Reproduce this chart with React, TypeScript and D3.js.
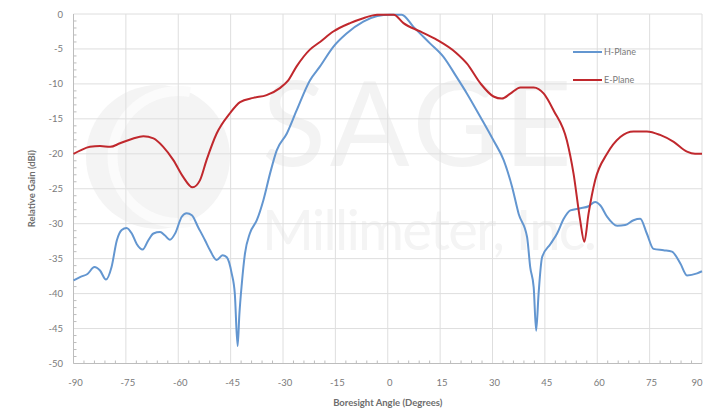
import React from 'react';
import * as d3 from 'd3';

// measured pattern, angle in degrees / relative gain in dBi
const hAngles = [-90, -88, -86, -84, -82.4, -80.7, -79.1, -77.6, -76.2, -74.8, -73.3, -71.9, -70.2, -68.6, -67.1, -65.2, -63.8, -62.4, -60.9, -59, -57.6, -56.1, -54.3, -52.3, -50.9, -49, -47.3, -46.1, -44.7, -43.8, -43, -42.5, -41.8, -40.9, -39.5, -37.5, -35.6, -33.7, -31.8, -28.9, -26.1, -22.3, -19.4, -15.6, -11.8, -7, -3, 0.6, 4, 7.3, 12.1, 15.9, 19.7, 22.7, 26.5, 30.3, 33.2, 35.6, 37.5, 39.9, 40.8, 41.8, 42.5, 43.2, 44.2, 46.6, 48.5, 50.4, 52.3, 55.2, 57.5, 59.4, 60.9, 62.8, 65.7, 68, 70.4, 72.3, 74.2, 76.1, 79, 81.4, 83.8, 85.7, 88.6, 90];
const hGain = [-38.1, -37.6, -37.2, -36.2, -36.7, -38.0, -36.2, -32.4, -30.9, -30.6, -31.4, -32.9, -33.7, -32.4, -31.4, -31.2, -31.7, -32.3, -31.4, -29.0, -28.5, -28.8, -30.5, -32.4, -33.8, -35.2, -34.5, -34.8, -37.1, -40.0, -47.5, -43.0, -38.6, -34.3, -31.4, -29.5, -26.6, -22.8, -19.5, -17.1, -13.8, -9.5, -7.5, -4.7, -2.8, -1.1, -0.3, -0.1, -0.1, -1.8, -4.2, -6.1, -9.0, -11.4, -14.7, -18.1, -20.9, -24.7, -28.6, -31.9, -36.2, -39.1, -45.3, -40.0, -34.8, -32.9, -31.4, -29.3, -28.1, -27.8, -27.5, -26.9, -27.4, -29.0, -30.3, -30.2, -29.5, -29.3, -31.4, -33.6, -33.8, -34.0, -35.7, -37.4, -37.1, -36.8];

const eAngles = [-90, -88, -85.3, -82.4, -79.5, -76.7, -72.9, -70, -67.1, -64.3, -61.4, -58.6, -55.9, -53.8, -51.9, -49, -45.2, -42.3, -38.5, -34.7, -30.9, -28.5, -26.1, -22.3, -19.4, -15.6, -10.8, -7, -3, 1.7, 4.5, 9.3, 14.1, 19.7, 22.7, 26.5, 30.3, 32.7, 35.1, 38, 41.8, 44.7, 47.5, 51.3, 53.2, 55.1, 56.3, 57.5, 59.4, 62.8, 66.6, 70.4, 74.2, 78, 81.9, 85.7, 88, 90];
const eGain = [-20.0, -19.5, -19.0, -18.9, -19.0, -18.5, -17.8, -17.5, -17.8, -19.0, -20.9, -23.3, -24.8, -23.8, -20.9, -17.1, -14.2, -12.6, -12.0, -11.6, -10.6, -9.5, -7.5, -5.1, -4.0, -2.5, -1.3, -0.6, -0.1, -0.1, -1.3, -2.5, -3.7, -5.6, -7.1, -9.9, -11.8, -12.1, -11.4, -10.5, -10.5, -11.4, -13.8, -18.1, -22.8, -29.5, -32.6, -28.6, -23.8, -20.0, -17.6, -16.8, -16.8, -17.3, -18.3, -19.7, -20.0, -20.0];

const xTicks = [-90, -75, -60, -45, -30, -15, 0, 15, 30, 45, 60, 75, 90];
const yTicks = [0, -5, -10, -15, -20, -25, -30, -35, -40, -45, -50];
const seriesNames = ['H-Plane', 'E-Plane'];
const seriesColors = ['#6396d0', '#c0282d'];

const font = 'Lato, "Open Sans", sans-serif';

export default function App() {
  const width = 707;
  const height = 410;
  const margin = { top: 14, right: 5, bottom: 46.5, left: 73.5 };

  const x = d3.scaleLinear().domain([-90, 90]).range([margin.left, width - margin.right]);
  const y = d3.scaleLinear().domain([-50, 0]).range([height - margin.bottom, margin.top]);

  const line = d3
    .line<[number, number]>()
    .x((d) => x(d[0]))
    .y((d) => y(d[1]))
    .curve(d3.curveMonotoneX);

  const hPath = line(hAngles.map((a, i) => [a, hGain[i]] as [number, number])) || '';
  const ePath = line(eAngles.map((a, i) => [a, eGain[i]] as [number, number])) || '';

  const xMinor = d3.range(-90, 90.01, 3).filter((v) => v % 15 !== 0);
  const yMinor = d3.range(-50, 0.01, 1).filter((v) => v % 5 !== 0);

  const x0 = x(-90);
  const y0 = y(-50);

  return (
    <svg
      width={width}
      height={height}
      style={{ position: 'absolute', left: 0, top: 0, background: '#fff' }}
    >
      {/* faint watermark */}
      <g>
        <circle cx={158} cy={157} r={72} fill="#f4f4f4" />
        <path
          d="M 190 92 A 66 66 0 1 0 190 222"
          fill="none"
          stroke="#fbfbfb"
          strokeWidth={10}
        />
        <text
          x={262}
          y={166}
          fontFamily={font}
          fontSize={118}
          fill="#f3f3f3"
          textLength={310}
          lengthAdjust="spacing"
        >
          SAGE
        </text>
        <text
          x={262}
          y={250}
          fontFamily={font}
          fontSize={56}
          fill="#f4f4f4"
          textLength={335}
          lengthAdjust="spacing"
        >
          Millimeter, Inc.
        </text>
      </g>

      {/* grid */}
      <g stroke="#dedede" strokeWidth={1}>
        {xTicks.map((t) => (
          <line key={'gx' + t} x1={x(t)} x2={x(t)} y1={y(0)} y2={y0} />
        ))}
        {yTicks.map((t) => (
          <line key={'gy' + t} x1={x0} x2={x(90)} y1={y(t)} y2={y(t)} />
        ))}
      </g>

      {/* axes */}
      <g stroke="#bdbdbd" strokeWidth={1}>
        <line x1={x0} x2={x0} y1={y(0)} y2={y0} />
        <line x1={x0} x2={x(90)} y1={y0} y2={y0} />
        {xMinor.map((t) => (
          <line key={'mx' + t} x1={x(t)} x2={x(t)} y1={y0} y2={y0 - 3} />
        ))}
        {yMinor.map((t) => (
          <line key={'my' + t} x1={x0} x2={x0 + 3} y1={y(t)} y2={y(t)} />
        ))}
      </g>

      <g fontFamily={font} fontSize={9.5} fill="#7a7a7a">
        {xTicks.map((t) => (
          <text key={'tx' + t} x={Math.min(x(t) + 2, 697)} y={386} textAnchor="middle">
            {t}
          </text>
        ))}
        {yTicks.map((t) => (
          <text key={'ty' + t} x={63} y={y(t) + 3.5} textAnchor="end">
            {t}
          </text>
        ))}
      </g>

      <text
        x={(x0 + x(90)) / 2}
        y={406}
        textAnchor="middle"
        fontFamily={font}
        fontSize={9.5}
        fontWeight="bold"
        fill="#6e6e6e"
      >
        Boresight Angle (Degrees)
      </text>
      <text
        transform={`translate(35, ${(y(0) + y0) / 2}) rotate(-90)`}
        textAnchor="middle"
        fontFamily={font}
        fontSize={9.5}
        fontWeight="bold"
        fill="#6e6e6e"
      >
        Relative Gain (dBi)
      </text>

      {/* series */}
      <path d={hPath} fill="none" stroke={seriesColors[0]} strokeWidth={2} strokeLinejoin="round" />
      <path d={ePath} fill="none" stroke={seriesColors[1]} strokeWidth={2} strokeLinejoin="round" />

      {/* legend */}
      <g fontFamily={font} fontSize={9} fill="#7a7a7a">
        {seriesNames.map((name, i) => (
          <g key={name} transform={`translate(573, ${52 + i * 28})`}>
            <line x1={0} x2={29} y1={0} y2={0} stroke={seriesColors[i]} strokeWidth={2} />
            <text x={31} y={3}>
              {name}
            </text>
          </g>
        ))}
      </g>
    </svg>
  );
}
